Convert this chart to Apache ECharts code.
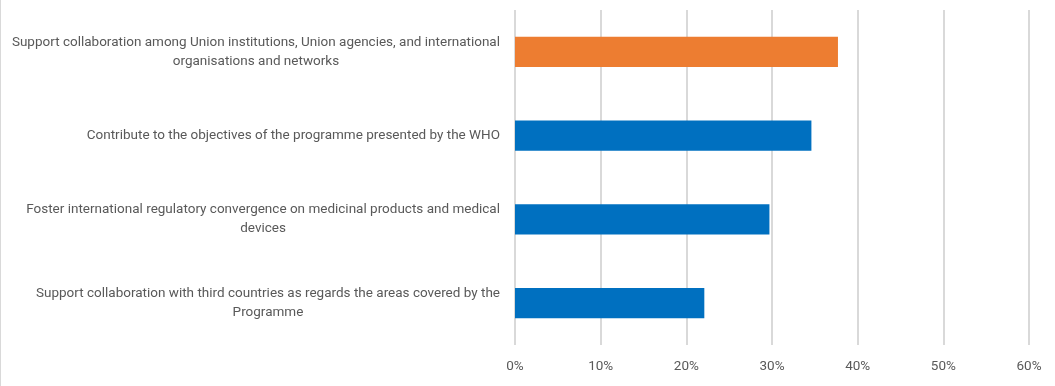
<!DOCTYPE html>
<html>
<head>
<meta charset="utf-8">
<script src="https://cdn.jsdelivr.net/npm/echarts@6/dist/echarts.min.js"></script>
<style>
  html, body { margin: 0; padding: 0; background: #fff; }
  #chart { width: 1055px; height: 386px; }
</style>
</head>
<body>
<div id="chart"></div>
<script>
// categories, bottom to top (as echarts draws a category y axis)
const categories = [
  'Support collaboration with third countries as regards the areas covered by the\nProgramme',
  'Foster international regulatory convergence on medicinal products and medical\ndevices',
  'Contribute to the objectives of the programme presented by the WHO',
  'Support collaboration among Union institutions, Union agencies, and international\norganisations and networks'
];
const values = [22.1, 29.7, 34.6, 37.7];
const barColors = ['#0070C0', '#0070C0', '#0070C0', '#ED7D31'];
const xTicks = [0, 10, 20, 30, 40, 50, 60];

function renderChart() {
  const dom = document.getElementById('chart');
  const chart = echarts.init(dom);
  const option = {
    animation: false,
    textStyle: { fontFamily: 'Roboto' },
    grid: {
      left: 515,
      right: 26,
      top: 10,
      bottom: 41
    },
    xAxis: {
      type: 'value',
      min: xTicks[0],
      max: xTicks[xTicks.length - 1],
      interval: 10,
      axisLine: { show: false },
      axisTick: { show: false },
      splitLine: { lineStyle: { color: '#d9d9d9', width: 2 } },
      axisLabel: {
        formatter: v => v + '%',
        color: '#595959',
        fontSize: 13.5,
        margin: 15
      }
    },
    yAxis: {
      type: 'category',
      data: categories,
      axisLine: { show: false },
      axisTick: { show: false },
      axisLabel: {
        color: '#595959',
        fontSize: 13.5,
        lineHeight: 19,
        margin: 15,
        align: 'right',
        formatter: v => v.split('\n').map(s => '{c|' + s + '}').join('\n'),
        rich: {
          c: { align: 'center', color: '#595959', fontSize: 13.5, lineHeight: 19 }
        }
      }
    },
    series: [
      {
        type: 'bar',
        data: values.map((v, i) => ({ value: v, itemStyle: { color: barColors[i] } })),
        barCategoryGap: '64%'
      }
    ],
    graphic: [
      {
        type: 'line',
        shape: { x1: 0.5, y1: 0, x2: 0.5, y2: 386 },
        style: { stroke: '#d9d9d9', lineWidth: 1 }
      }
    ]
  };
  chart.setOption(option, true);
}
renderChart();
</script>
</body>
</html>
